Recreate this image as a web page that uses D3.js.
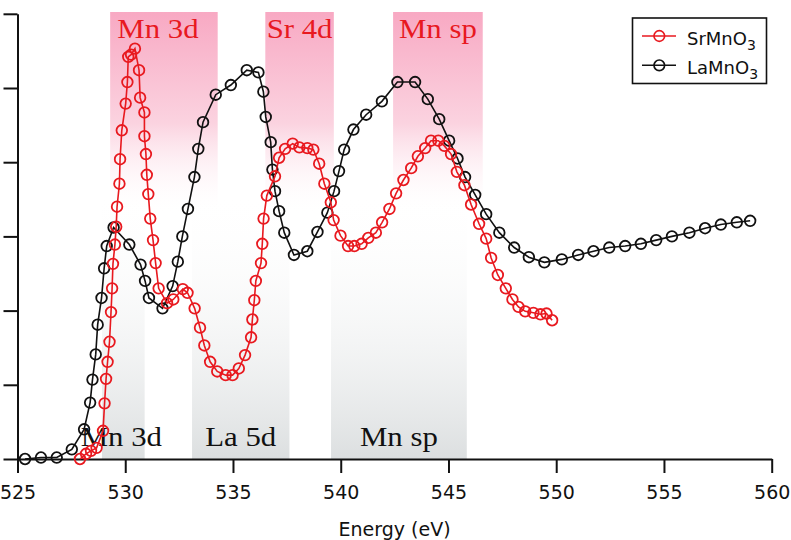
<!DOCTYPE html>
<html>
<head>
<meta charset="utf-8">
<script src="https://cdn.jsdelivr.net/npm/d3@7"></script>
<style>
  html, body { margin: 0; padding: 0; background: #fff; }
  svg { display: block; }
</style>
</head>
<body>
<svg id="chart" width="791" height="540"></svg>
<script>
// ---------------- data ----------------
const seriesNames = ["SrMnO", "LaMnO"];
const xTicks = [525, 530, 535, 540, 545, 550, 555, 560];
const yTicks = [0, 1, 2, 3, 4, 5, 6];

const energyLa = [525.35,526.09,526.82,527.52,528.09,528.37,528.48,528.63,528.72,528.90,529.02,529.14,529.46,530.19,530.71,530.92,531.10,531.73,532.20,532.44,532.65,532.91,533.21,533.39,533.61,534.20,534.90,535.64,536.18,536.41,536.52,536.75,536.83,536.95,537.14,537.38,537.83,538.45,538.92,539.38,539.69,539.92,540.16,540.59,541.18,541.91,542.63,543.45,544.04,544.57,545.03,545.42,545.77,546.24,546.75,547.36,548.05,548.73,549.45,550.26,551.02,551.73,552.46,553.20,553.93,554.64,555.37,556.18,556.91,557.64,558.38,559.00];
const intensityLa = [0,0.02,0.02,0.13,0.40,0.76,1.07,1.41,1.81,2.17,2.57,2.87,3.12,2.89,2.62,2.40,2.17,2.03,2.33,2.66,3.00,3.37,3.80,4.18,4.54,4.91,5.04,5.24,5.21,4.95,4.61,4.27,3.90,3.61,3.34,3.05,2.75,2.80,3.06,3.32,3.61,3.88,4.17,4.44,4.64,4.82,5.08,5.08,4.85,4.58,4.29,4.05,3.80,3.56,3.30,3.05,2.85,2.72,2.65,2.69,2.75,2.80,2.85,2.87,2.90,2.95,3.00,3.05,3.11,3.16,3.19,3.21];

const energySr = [527.90,528.18,528.41,528.67,528.97,529.04,529.11,529.18,529.27,529.34,529.39,529.43,529.52,529.58,529.62,529.73,529.76,529.84,530.02,530.10,530.14,530.27,530.45,530.64,530.69,530.89,530.89,530.96,531.00,531.07,531.16,531.29,531.41,531.55,531.94,532.23,532.67,532.89,533.22,533.47,533.67,533.94,534.27,534.66,534.98,535.27,535.56,535.84,535.90,535.99,536.06,536.30,536.36,536.42,536.57,536.95,537.14,537.42,537.77,538.08,538.45,538.73,539.00,539.24,539.54,539.67,539.99,540.34,540.63,540.97,541.28,541.63,541.92,542.26,542.57,542.91,543.27,543.58,543.92,544.19,544.53,544.81,545.12,545.39,545.74,546.05,546.42,546.75,546.98,547.29,547.66,547.97,548.25,548.56,548.94,549.27,549.55,549.81];
const intensitySr = [0,0.07,0.11,0.15,0.38,0.75,1.08,1.31,1.58,1.98,2.30,2.63,2.89,3.13,3.40,3.71,4.04,4.43,4.79,5.08,5.42,5.45,5.53,5.24,4.87,4.67,4.35,4.11,3.83,3.57,3.24,2.95,2.64,2.30,2.10,2.15,2.29,2.24,2.03,1.77,1.53,1.31,1.18,1.13,1.13,1.22,1.40,1.64,1.88,2.14,2.40,2.64,2.90,3.24,3.55,3.81,4.06,4.18,4.25,4.20,4.19,4.17,3.98,3.71,3.46,3.22,3.01,2.87,2.87,2.90,2.98,3.05,3.19,3.37,3.58,3.76,3.92,4.08,4.19,4.29,4.29,4.22,4.11,3.87,3.69,3.43,3.17,2.97,2.71,2.48,2.30,2.15,2.05,1.99,1.97,1.95,1.96,1.87];

// shaded bands (eV)
const pinkLabels = ["Mn 3d", "Sr 4d", "Mn sp"];
const pinkStart  = [529.30, 536.50, 542.43];
const pinkEnd    = [534.29, 539.68, 546.59];
const grayLabels = ["Mn 3d", "La 5d", "Mn sp"];
const grayStart  = [528.92, 533.10, 539.55];
const grayEnd    = [530.90, 537.62, 545.85];

// ---------------- drawing ----------------
const RED = "#e8191f";
const svg = d3.select("#chart");
const x = d3.scaleLinear().domain([525, 560]).range([17.5, 771.7]);
const y = d3.scaleLinear().domain([0, 6]).range([459, 13.8]);

const defs = svg.append("defs");
const gp = defs.append("linearGradient").attr("id", "pinkGrad")
  .attr("x1", 0).attr("y1", 0).attr("x2", 0).attr("y2", 1);
gp.append("stop").attr("offset", "0%").attr("stop-color", "#f8a9c3");
gp.append("stop").attr("offset", "55%").attr("stop-color", "#fbd3e0");
gp.append("stop").attr("offset", "100%").attr("stop-color", "#ffffff").attr("stop-opacity", 0);
const gg = defs.append("linearGradient").attr("id", "grayGrad")
  .attr("x1", 0).attr("y1", 0).attr("x2", 0).attr("y2", 1);
gg.append("stop").attr("offset", "0%").attr("stop-color", "#ffffff").attr("stop-opacity", 0);
gg.append("stop").attr("offset", "100%").attr("stop-color", "#dcdfe0");

const pinkTop = 12, pinkBottom = 215, grayTop = 190;

// gray bands
const grayData = grayLabels.map((l, i) => ({ l, a: grayStart[i], b: grayEnd[i] }));
svg.append("g").selectAll("rect").data(grayData).join("rect")
  .attr("x", d => x(d.a)).attr("width", d => x(d.b) - x(d.a))
  .attr("y", grayTop).attr("height", y(0) - grayTop)
  .attr("fill", "url(#grayGrad)");

// pink bands
const pinkData = pinkLabels.map((l, i) => ({ l, a: pinkStart[i], b: pinkEnd[i] }));
svg.append("g").selectAll("rect").data(pinkData).join("rect")
  .attr("x", d => x(d.a)).attr("width", d => x(d.b) - x(d.a))
  .attr("y", pinkTop).attr("height", pinkBottom - pinkTop)
  .attr("fill", "url(#pinkGrad)");

// band labels
function bandLabel(data, yb, color, shift) {
  svg.append("g").selectAll("text").data(data).join("text")
    .attr("transform", (d, i) => `translate(${(x(d.a) + x(d.b)) / 2 + shift(i)},${yb}) scale(1.1,1)`)
    .attr("text-anchor", "middle")
    .attr("font-family", "'Liberation Serif', 'Times New Roman', serif")
    .attr("font-size", 28)
    .attr("fill", color)
    .text(d => d.l);
}
bandLabel(pinkData, 38.3, RED, i => (i === 0 ? -6 : 0));
bandLabel(grayData, 446, "#111", i => (i === 0 ? -2 : 0));

// axes
const axisFont = "'DejaVu Sans', Verdana, sans-serif";
const xAxis = svg.append("g").attr("transform", `translate(0,${y(0)})`)
  .call(d3.axisBottom(x).tickValues(xTicks).tickSize(14).tickSizeOuter(0).tickPadding(13));
xAxis.select(".domain").attr("stroke", "#111").attr("stroke-width", 2);
xAxis.selectAll(".tick line").attr("stroke", "#111").attr("stroke-width", 2);
xAxis.selectAll(".tick text").attr("font-family", axisFont).attr("font-size", 19).attr("fill", "#111");

const yAxis = svg.append("g").attr("transform", `translate(${x(525)},0)`)
  .call(d3.axisLeft(y).tickValues(yTicks).tickSize(14).tickSizeOuter(0).tickFormat(""));
yAxis.select(".domain").attr("stroke", "#111").attr("stroke-width", 2);
yAxis.selectAll(".tick line").attr("stroke", "#111").attr("stroke-width", 2);

svg.append("text")
  .attr("x", (x(525) + x(560)) / 2).attr("y", 535.5)
  .attr("text-anchor", "middle")
  .attr("font-family", axisFont).attr("font-size", 19).attr("fill", "#111")
  .text("Energy (eV)");

// series
const series = [
  { name: seriesNames[1], color: "#111", xs: energyLa, ys: intensityLa },
  { name: seriesNames[0], color: RED, xs: energySr, ys: intensitySr }
];
const line = d3.line().x(d => x(d[0])).y(d => y(d[1]));
series.forEach(s => {
  const pts = s.xs.map((v, i) => [v, s.ys[i]]);
  const g = svg.append("g");
  g.append("path").datum(pts).attr("d", line)
    .attr("fill", "none").attr("stroke", s.color).attr("stroke-width", 1.6);
  g.selectAll("circle").data(pts).join("circle")
    .attr("cx", d => x(d[0])).attr("cy", d => y(d[1])).attr("r", 5.3)
    .attr("fill", "none").attr("stroke", s.color).attr("stroke-width", 1.8);
});

// legend
const lg = svg.append("g");
lg.append("rect").attr("x", 632.5).attr("y", 18).attr("width", 134).attr("height", 65.5)
  .attr("fill", "#fff").attr("stroke", "#111").attr("stroke-width", 1.6);
const legendItems = [
  { name: seriesNames[0], color: RED, cy: 36 },
  { name: seriesNames[1], color: "#111", cy: 65.3 }
];
legendItems.forEach(it => {
  lg.append("line").attr("x1", 642).attr("x2", 676).attr("y1", it.cy).attr("y2", it.cy)
    .attr("stroke", it.color).attr("stroke-width", 1.6);
  lg.append("circle").attr("cx", 659.3).attr("cy", it.cy).attr("r", 5.3)
    .attr("fill", "none").attr("stroke", it.color).attr("stroke-width", 1.7);
  const t = lg.append("text").attr("x", 687).attr("y", it.cy + 9)
    .attr("font-family", axisFont).attr("font-size", 18).attr("fill", "#111");
  t.append("tspan").text(it.name);
  t.append("tspan").attr("font-size", 14).attr("dy", 5).text("3");
});
</script>
</body>
</html>
